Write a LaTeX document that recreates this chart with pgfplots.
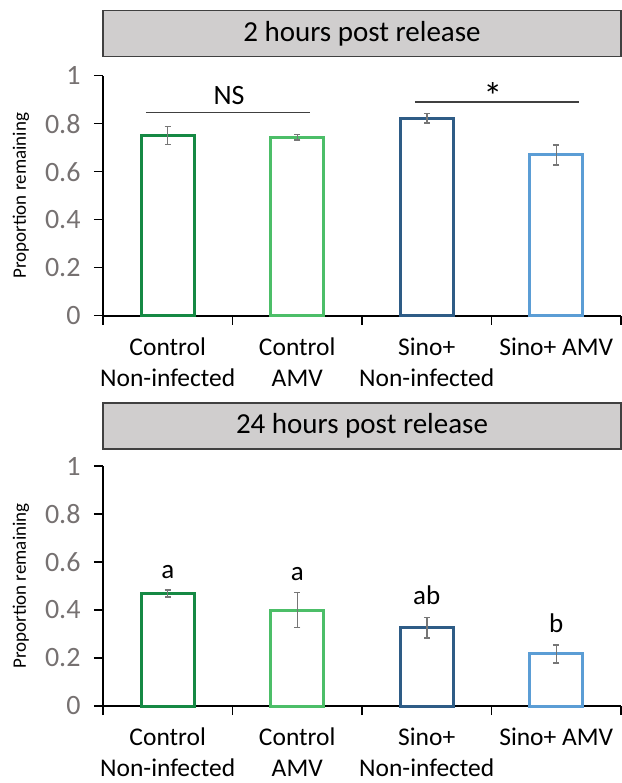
\documentclass[border=0pt]{standalone}
\usepackage{fontspec}
\setmainfont{Carlito}
\usepackage{pgfplots}
\pgfplotsset{compat=1.18}
\definecolor{cg1}{RGB}{22,137,68}
\definecolor{cg2}{RGB}{76,190,104}
\definecolor{cb1}{RGB}{46,92,134}
\definecolor{cb2}{RGB}{91,157,213}
\definecolor{errc}{RGB}{118,118,118}
\definecolor{tickc}{RGB}{118,113,113}
\definecolor{boxc}{RGB}{208,206,206}
\definecolor{sigc}{RGB}{64,64,64}
\pgfplotsset{
  panel/.style={
    width=518bp, height=240bp, scale only axis,
    xmin=-0.5, xmax=3.5, ymin=0, ymax=1,
    axis x line=bottom, axis y line=left,
    axis line style={-, black, line width=1.5bp},
    x axis line style={line width=2bp},
    xtick={-0.5,0.5,1.5,2.5,3.5}, x tick label as interval,
    xticklabels={Control\\Non-infected, Control\\AMV, Sino+\\Non-infected, Sino+ AMV},
    ytick={0,0.2,0.4,0.6,0.8,1},
    tick align=outside, major tick length=9bp,
    tick style={black, line width=1.2bp},
    yticklabel style={font=\fontsize{28bp}{32bp}\selectfont, text=tickc, xshift=-10bp},
    xticklabel style={font=\fontsize{25.5bp}{31bp}\selectfont, align=center, inner sep=0pt, yshift=-13bp},
    /pgf/number format/assume math mode=true,
    ylabel={Proportion remaining},
    ylabel style={font=\fontsize{19bp}{22bp}\selectfont, at={([xshift=-82bp]axis description cs:0,0.5)}, anchor=center},
    clip=false,
    ybar, bar width=0.41, bar shift=0pt,
  },
  barstyle/.style={draw=#1, fill=white, line width=3bp,
    error bars/.cd, y dir=both, y explicit,
    error bar style={errc, line width=1.5bp},
    error mark options={errc, line width=1.5bp, mark size=3bp, rotate=90}},
}
\tikzset{lbl/.style={anchor=base, font=\fontsize{27bp}{30bp}\selectfont, inner sep=0pt}}
\begin{document}
\begin{tikzpicture}
\begin{axis}[panel, name=top]
\addplot[barstyle=cg1] coordinates {(0,0.751) +- (0,0.037)};
\addplot[barstyle=cg2] coordinates {(1,0.744) +- (0,0.012)};
\addplot[barstyle=cb1] coordinates {(2,0.823) +- (0,0.020)};
\addplot[barstyle=cb2] coordinates {(3,0.670) +- (0,0.042)};
\draw[sigc, line width=1.5bp] (axis cs:-0.168,0.846) -- (axis cs:1.10,0.846);
\draw[sigc, line width=1.5bp] (axis cs:1.909,0.890) -- (axis cs:3.176,0.890);
\node[lbl, font=\fontsize{28bp}{30bp}\selectfont] at (axis cs:0.473,0.879) {NS};
\node[lbl, font=\fontsize{38bp}{30bp}\selectfont] at (axis cs:2.51,0.858) {*};
\draw[fill=boxc, draw=black!75, line width=1.2bp] ([yshift=19bp]rel axis cs:0,1) rectangle ([yshift=65bp]rel axis cs:1,1);
\node[font=\fontsize{29bp}{30bp}\selectfont] at ([yshift=42bp]rel axis cs:0.5,1) {2 hours post release};
\end{axis}
\begin{axis}[panel, name=bot, at={(0,-390.3bp)}]
\addplot[barstyle=cg1] coordinates {(0,0.469) +- (0,0.015)};
\addplot[barstyle=cg2] coordinates {(1,0.400) +- (0,0.072)};
\addplot[barstyle=cb1] coordinates {(2,0.326) +- (0,0.042)};
\addplot[barstyle=cb2] coordinates {(3,0.217) +- (0,0.038)};
\node[lbl] at (axis cs:0,0.532) {a};
\node[lbl] at (axis cs:1,0.525) {a};
\node[lbl] at (axis cs:2,0.425) {ab};
\node[lbl] at (axis cs:3,0.305) {b};
\draw[fill=boxc, draw=black!75, line width=1.2bp] ([yshift=17bp]rel axis cs:0,1) rectangle ([yshift=63bp]rel axis cs:1,1);
\node[font=\fontsize{29bp}{30bp}\selectfont] at ([yshift=40bp]rel axis cs:0.5,1) {24 hours post release};
\end{axis}
\pgfresetboundingbox
\path[use as bounding box] (-103bp,-467.3bp) rectangle (519bp,315.7bp);
\end{tikzpicture}
\end{document}
